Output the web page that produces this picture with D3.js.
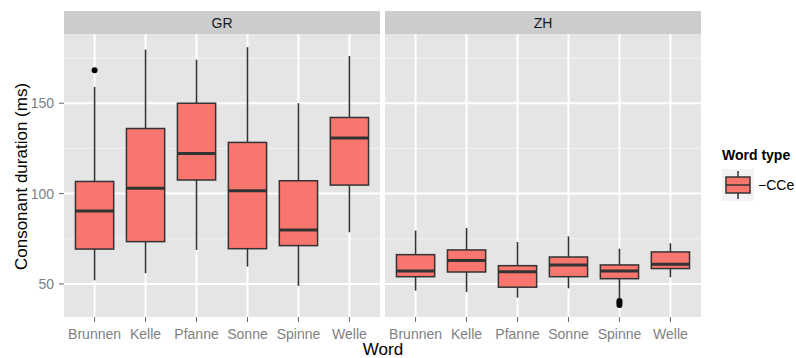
<!DOCTYPE html>
<html>
<head>
<meta charset="utf-8">
<script src="https://cdn.jsdelivr.net/npm/d3@7"></script>
<style>
  body { margin: 0; background: #fff; }
  svg { display: block; font-family: "Liberation Sans", Arial, Helvetica, sans-serif; }
</style>
</head>
<body>
<div id="chart"></div>
<script>
const words = ['Brunnen', 'Kelle', 'Pfanne', 'Sonne', 'Spinne', 'Welle'];
const dialects = ['GR', 'ZH'];

// [lower whisker, Q1, median, Q3, upper whisker]
const grStats = [
  [52, 69.3, 90.3, 106.7, 159],
  [55.9, 73.4, 103, 136, 179.7],
  [68.8, 107.5, 122.2, 150, 174.1],
  [59.6, 69.5, 101.5, 128.3, 181],
  [48.9, 71.2, 79.8, 107.1, 150],
  [78.6, 104.7, 130.7, 142.1, 176.1]
];
const zhStats = [
  [46.3, 54, 57.2, 66.2, 79.5],
  [45.6, 56.6, 62.9, 68.8, 80.9],
  [42.4, 48.2, 56.8, 60.1, 73.2],
  [47.6, 54, 60.5, 64.9, 76.3],
  [42.1, 52.9, 57.2, 60.5, 69.5],
  [53.7, 58.5, 60.9, 67.7, 72.5]
];
const grOutliers = [[168.2], [], [], [], [], []];
const zhOutliers = [[], [], [], [], [40.6, 39.6, 38.4], []];

const yTicks = [50, 100, 150];
const yMinor = [75, 125, 175];
const legendTitle = 'Word type';
const legendLabels = ['\u2212CCe'];

const width = 796, height = 358;
const fill = '#F8766D';
const line = '#333333';

const svg = d3.select('#chart').append('svg')
  .attr('width', width)
  .attr('height', height);

const panelTop = 34, panelBottom = 317, stripTop = 11;
const panels = [
  { name: dialects[0], x0: 64, x1: 380, stats: grStats, outliers: grOutliers },
  { name: dialects[1], x0: 385, x1: 701, stats: zhStats, outliers: zhOutliers }
];

const y = d3.scaleLinear().domain([31.7, 188.3]).range([panelBottom, panelTop]);

panels.forEach(p => {
  // discrete axis, 0.6 units of expansion on each side
  const x = d3.scalePoint().domain(words).range([p.x0, p.x1]).padding(0.6);
  const boxW = x.step() * 0.75;

  const g = svg.append('g');

  // panel bg
  g.append('rect')
    .attr('x', p.x0).attr('y', panelTop)
    .attr('width', p.x1 - p.x0).attr('height', panelBottom - panelTop)
    .attr('fill', '#e5e5e5');

  // strip
  g.append('rect')
    .attr('x', p.x0).attr('y', stripTop)
    .attr('width', p.x1 - p.x0).attr('height', panelTop - stripTop)
    .attr('fill', '#cccccc');
  g.append('text')
    .attr('x', (p.x0 + p.x1) / 2).attr('y', 28)
    .attr('text-anchor', 'middle')
    .attr('font-size', 14)
    .attr('fill', '#1a1a1a')
    .text(p.name);

  // grid
  g.selectAll('line.minor').data(yMinor).join('line')
    .attr('class', 'minor')
    .attr('x1', p.x0).attr('x2', p.x1)
    .attr('y1', d => y(d)).attr('y2', d => y(d))
    .attr('stroke', '#f2f2f2').attr('stroke-width', 1);
  g.selectAll('line.major').data(yTicks).join('line')
    .attr('class', 'major')
    .attr('x1', p.x0).attr('x2', p.x1)
    .attr('y1', d => y(d)).attr('y2', d => y(d))
    .attr('stroke', '#ffffff').attr('stroke-width', 2);
  g.selectAll('line.vx').data(words).join('line')
    .attr('class', 'vx')
    .attr('x1', d => x(d)).attr('x2', d => x(d))
    .attr('y1', panelTop).attr('y2', panelBottom)
    .attr('stroke', '#ffffff').attr('stroke-width', 2);

  // boxes
  const data = words.map((w, i) => ({ w, s: p.stats[i], out: p.outliers[i] }));
  const b = g.selectAll('g.box').data(data).join('g').attr('class', 'box');
  b.append('line')
    .attr('x1', d => x(d.w)).attr('x2', d => x(d.w))
    .attr('y1', d => y(d.s[4])).attr('y2', d => y(d.s[3]))
    .attr('stroke', line).attr('stroke-width', 1.6);
  b.append('line')
    .attr('x1', d => x(d.w)).attr('x2', d => x(d.w))
    .attr('y1', d => y(d.s[1])).attr('y2', d => y(d.s[0]))
    .attr('stroke', line).attr('stroke-width', 1.6);
  b.append('rect')
    .attr('x', d => x(d.w) - boxW / 2)
    .attr('y', d => y(d.s[3]))
    .attr('width', boxW)
    .attr('height', d => y(d.s[1]) - y(d.s[3]))
    .attr('fill', fill).attr('stroke', line).attr('stroke-width', 1.5);
  b.append('line')
    .attr('x1', d => x(d.w) - boxW / 2).attr('x2', d => x(d.w) + boxW / 2)
    .attr('y1', d => y(d.s[2])).attr('y2', d => y(d.s[2]))
    .attr('stroke', line).attr('stroke-width', 3);
  b.selectAll('circle').data(d => d.out.map(v => ({ w: d.w, v }))).join('circle')
    .attr('cx', d => x(d.w)).attr('cy', d => y(d.v))
    .attr('r', 3).attr('fill', '#000');

  // x axis
  const ax = g.append('g');
  ax.selectAll('line').data(words).join('line')
    .attr('x1', d => x(d)).attr('x2', d => x(d))
    .attr('y1', panelBottom).attr('y2', panelBottom + 5)
    .attr('stroke', '#666').attr('stroke-width', 1);
  ax.selectAll('text').data(words).join('text')
    .attr('x', d => x(d)).attr('y', 338.5)
    .attr('text-anchor', 'middle')
    .attr('font-size', 14)
    .attr('fill', '#7f7f7f')
    .text(d => d);
});

// y axis
const ay = svg.append('g');
ay.selectAll('line').data(yTicks).join('line')
  .attr('x1', 59).attr('x2', 64)
  .attr('y1', d => y(d)).attr('y2', d => y(d))
  .attr('stroke', '#666').attr('stroke-width', 1);
ay.selectAll('text').data(yTicks).join('text')
  .attr('x', 54).attr('y', d => y(d))
  .attr('dy', '0.36em')
  .attr('text-anchor', 'end')
  .attr('font-size', 14)
  .attr('fill', '#7f7f7f')
  .text(d => d);

// axis titles
svg.append('text')
  .attr('transform', `translate(27,${(panelTop + panelBottom) / 2 + 1}) rotate(-90)`)
  .attr('text-anchor', 'middle')
  .attr('font-size', 17)
  .attr('fill', '#000')
  .text('Consonant duration (ms)');
svg.append('text')
  .attr('x', 383).attr('y', 355)
  .attr('text-anchor', 'middle')
  .attr('font-size', 17)
  .attr('fill', '#000')
  .text('Word');

// legend
const lg = svg.append('g');
lg.append('text')
  .attr('x', 722).attr('y', 160)
  .attr('font-size', 14)
  .attr('font-weight', 'bold')
  .text(legendTitle);
legendLabels.forEach((lab, i) => {
  const ky = 169 + i * 32;
  lg.append('rect')
    .attr('x', 722).attr('y', ky).attr('width', 32).attr('height', 32)
    .attr('fill', '#f2f2f2');
  lg.append('line')
    .attr('x1', 738).attr('x2', 738).attr('y1', ky + 2).attr('y2', ky + 30)
    .attr('stroke', line).attr('stroke-width', 1.5);
  lg.append('rect')
    .attr('x', 726).attr('y', ky + 8).attr('width', 24).attr('height', 16)
    .attr('fill', fill).attr('stroke', line).attr('stroke-width', 1.5);
  lg.append('line')
    .attr('x1', 726).attr('x2', 750).attr('y1', ky + 16).attr('y2', ky + 16)
    .attr('stroke', line).attr('stroke-width', 1.5);
  lg.append('text')
    .attr('x', 758).attr('y', ky + 16)
    .attr('dy', '0.36em')
    .attr('font-size', 14)
    .text(lab);
});
</script>
</body>
</html>
